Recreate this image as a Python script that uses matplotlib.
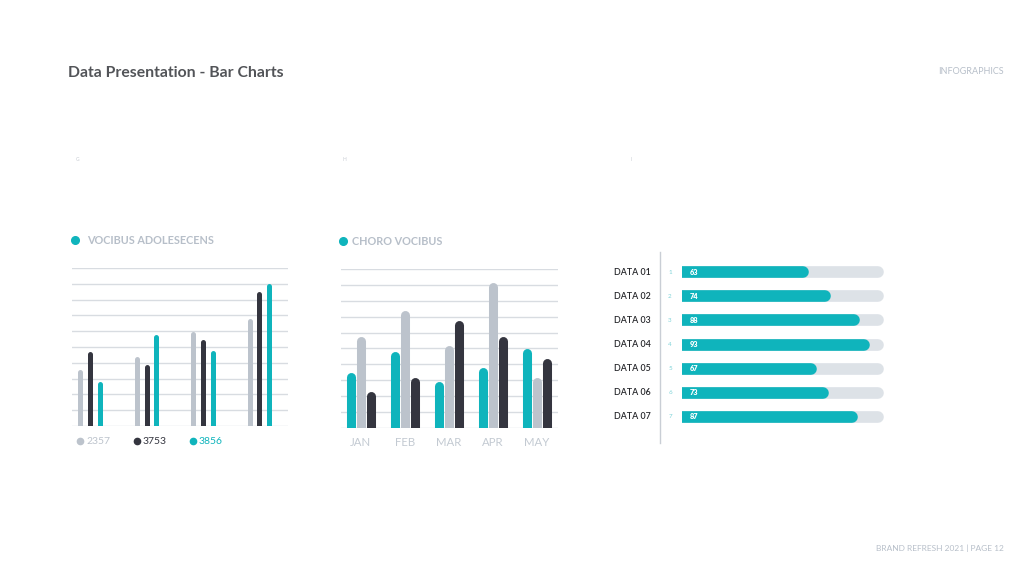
# data presentation - bar charts slide

import matplotlib.pyplot as plt
from matplotlib.transforms import ScaledTranslation, blended_transform_factory

plt.rcParams['font.family'] = ['Lato', 'DejaVu Sans']

TEAL = "#0fb4bc"
DARK = "#34353f"
GRAY = "#bcc3cc"
TRACK = "#dde2e7"
GRID = "#d8dce1"
MUTED = "#b7bfc9"

# chart 1 - vocibus adolesecens
vb_gray = [3.6, 4.4, 6.0, 6.8]
vb_dark = [4.7, 3.9, 5.5, 8.5]
vb_teal = [2.8, 5.8, 4.8, 9.0]
vb_legend = ["2357", "3753", "3856"]

# chart 2 - choro vocibus
months = ["JAN", "FEB", "MAR", "APR", "MAY"]
cv_teal = [3.5, 4.8, 2.9, 3.8, 5.0]
cv_gray = [5.75, 7.4, 5.2, 9.15, 3.2]
cv_dark = [2.3, 3.2, 6.8, 5.75, 4.35]

# chart 3 - progress bars
data_labels = ["DATA 01", "DATA 02", "DATA 03", "DATA 04", "DATA 05", "DATA 06", "DATA 07"]
data_values = [63, 74, 88, 93, 67, 73, 87]

W, H = 1024, 576
fig = plt.figure(figsize=(W / 100, H / 100), dpi=100)
fig.patch.set_facecolor("white")


def px(x, y):
    return x / W, 1 - y / H


def add_axes(x0, y0, x1, y1):
    # pixel box -> axes
    ax = fig.add_axes([x0 / W, 1 - y1 / H, (x1 - x0) / W, (y1 - y0) / H])
    ax.set_axis_off()
    return ax


def round_vbars(ax, xs, vals, lw, color):
    shift = ax.transData + ScaledTranslation(0, -lw / 2 / 72, fig.dpi_scale_trans)
    ax.vlines(xs, -5, vals, colors=color, linewidth=lw, capstyle="round",
              transform=shift, zorder=3)


def round_hbars(ax, ys, vals, lw, color, z):
    shift = ax.transData + ScaledTranslation(-lw / 2 / 72, 0, fig.dpi_scale_trans)
    ax.hlines(ys, -20, vals, colors=color, linewidth=lw, capstyle="round",
              transform=shift, zorder=z)


# header / footer
fig.text(*px(68, 73), "Data Presentation - Bar Charts", fontsize=11.3, fontweight="bold",
         color="#525458", va="center", ha="left")
fig.text(*px(1004, 71), "INFOGRAPHICS", fontsize=6.5, color=MUTED, va="center", ha="right")
fig.text(*px(1004, 548), "BRAND REFRESH 2021 | PAGE 12", fontsize=6, color=MUTED,
         va="center", ha="right")
for (x, s) in [(78, "G"), (344, "H"), (631, "I")]:
    fig.text(*px(x, 159), s, fontsize=3.5, color="#c6cbd2", va="center", ha="center")

# ---------- chart 1 ----------
ax1 = add_axes(71.7, 268, 288.3, 426)
ax1.set_xlim(-0.325, 3.51)
ax1.set_ylim(0, 10)
for g in range(11):
    ax1.axhline(g, color=GRID, linewidth=1, zorder=1)
grp = range(len(vb_gray))
lw1 = 3.6
round_vbars(ax1, [i - 0.172 for i in grp], vb_gray, lw1, GRAY)
round_vbars(ax1, list(grp), vb_dark, lw1, DARK)
round_vbars(ax1, [i + 0.172 for i in grp], vb_teal, lw1, TEAL)

for (dx, lab, col) in zip([80, 137, 193], vb_legend, [GRAY, DARK, TEAL]):
    fig.lines.append(plt.Line2D([dx / W], [1 - 441 / H], marker="o", markersize=4.5,
                                color=col, transform=fig.transFigure))
    fig.text(*px(dx + 6, 441.5), lab, fontsize=7.5, color=col, va="center", ha="left")

fig.lines.append(plt.Line2D([75 / W], [1 - 240 / H], marker="o", markersize=5.5,
                            color=TEAL, transform=fig.transFigure))
fig.text(*px(87, 240), "VOCIBUS ADOLESECENS", fontsize=7.8, fontweight="bold",
         color=MUTED, va="center", ha="left")

# ---------- chart 2 ----------
ax2 = add_axes(340.7, 269.3, 557.7, 427.7)
ax2.set_xlim(-0.455, 4.47)
ax2.set_ylim(0, 10)
for g in range(11):
    ax2.axhline(g, color=GRID, linewidth=1, zorder=1)
grp2 = range(len(months))
lw2 = 6.5
round_vbars(ax2, [i - 0.227 for i in grp2], cv_teal, lw2, TEAL)
round_vbars(ax2, list(grp2), cv_gray, lw2, GRAY)
round_vbars(ax2, [i + 0.227 for i in grp2], cv_dark, lw2, DARK)
for i, m in enumerate(months):
    ax2.text(i, -0.95, m, fontsize=8.2, color="#c3cad2", ha="center", va="center",
             clip_on=False)

fig.lines.append(plt.Line2D([343 / W], [1 - 241.5 / H], marker="o", markersize=5.5,
                            color=TEAL, transform=fig.transFigure))
fig.text(*px(352, 241.5), "CHORO VOCIBUS", fontsize=7.8, fontweight="bold",
         color=MUTED, va="center", ha="left")

# ---------- chart 3 ----------
ax3 = add_axes(682.3, 260.3, 884.2, 428.7)
ax3.set_xlim(0, 100.3)
ax3.set_ylim(len(data_labels) - 0.5, -0.5)
rows = list(range(len(data_labels)))
lw3 = 8.4
round_hbars(ax3, rows, [100] * len(rows), lw3, TRACK, 2)
round_hbars(ax3, rows, data_values, lw3, TEAL, 3)
lab_tr = blended_transform_factory(fig.transFigure, ax3.transData)
for i, (lab, v) in enumerate(zip(data_labels, data_values)):
    ax3.text(614 / W, i, lab, fontsize=6.4, fontweight="semibold", color="#26272b",
             ha="left", va="center", transform=lab_tr, clip_on=False)
    ax3.text(670 / W, i, str(i + 1), fontsize=4.5, color="#7fd3d8", ha="center",
             va="center", transform=lab_tr, clip_on=False)
    ax3.text(3.6, i, str(v), fontsize=5.3, fontweight="heavy", color="white",
             ha="left", va="center", zorder=4)

fig.lines.append(plt.Line2D([660.3 / W, 660.3 / W], [1 - 251.7 / H, 1 - 443 / H],
                            color="#c9ced5", linewidth=1, transform=fig.transFigure))

fig.savefig("out.png", dpi=100, facecolor="white")
